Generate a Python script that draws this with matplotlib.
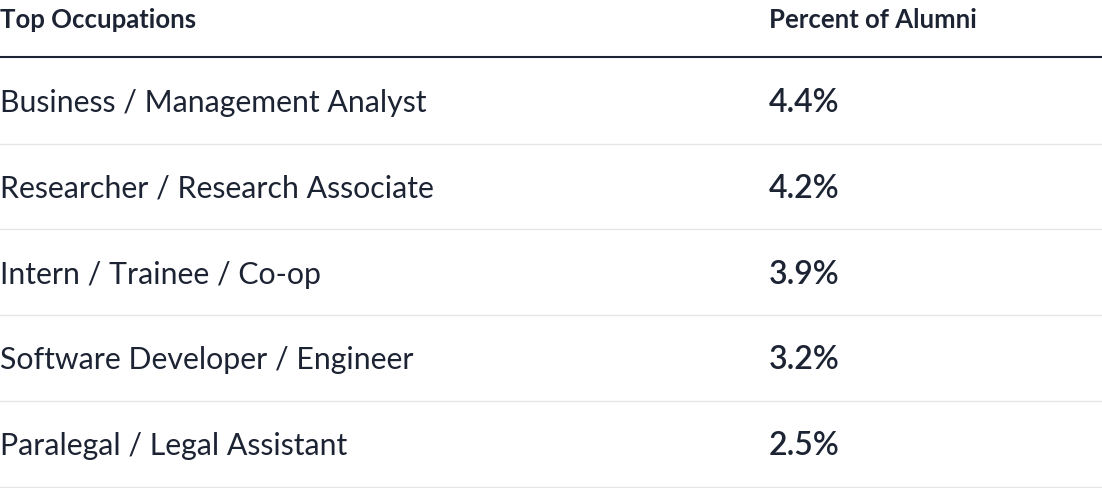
import matplotlib.pyplot as plt

occupations = [
    "Business / Management Analyst",
    "Researcher / Research Associate",
    "Intern / Trainee / Co-op",
    "Software Developer / Engineer",
    "Paralegal / Legal Assistant",
]
percents = [4.4, 4.2, 3.9, 3.2, 2.5]
headers = ["Top Occupations", "Percent of Alumni"]

text_color = "#1c2333"
plt.rcParams["font.family"] = "Lato"

fig = plt.figure(figsize=(11.02, 4.88), dpi=100)
ax = fig.add_axes([0, 0, 1, 1])
ax.set_xlim(0, 1102)
ax.set_ylim(488, 0)
ax.axis("off")

col_x = [0, 769]
ax.text(col_x[0], 20, headers[0], fontsize=18.5, fontweight="bold", color=text_color, va="center")
ax.text(col_x[1], 20, headers[1], fontsize=18.5, fontweight="bold", color=text_color, va="center")
ax.axhline(57, color="#1c2333", lw=1.5)

row_h = 85.8
for i, (name, pct) in enumerate(zip(occupations, percents)):
    yc = 103 + i * row_h
    ax.text(col_x[0], yc, name, fontsize=21.8, color=text_color, va="center")
    ax.text(col_x[1], yc, f"{pct:.1f}%", fontsize=23, fontweight="semibold", color=text_color, va="center")
    ax.axhline(101 + i * row_h + 42.5, color="#e6e6e6", lw=1)

fig.savefig("out.png", dpi=100)
